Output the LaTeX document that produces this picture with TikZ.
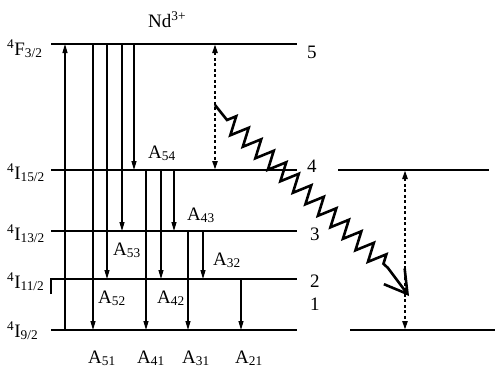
\documentclass[tikz,border=0pt]{standalone}
\usepackage{fontspec}
\setmainfont{Liberation Serif}
\usetikzlibrary{arrows.meta, decorations.pathmorphing, calc}

\begin{document}
\begin{tikzpicture}[x=1pt, y=-1pt, >={Triangle[length=9pt, width=5pt]},
    level/.style={line width=1.3pt},
    trans/.style={line width=1.1pt, ->},
    nonrad/.style={line width=2.2pt, dash pattern=on 3pt off 2.5pt, <->},
    lbl/.style={font=\fontsize{19}{22}\selectfont, inner sep=0pt, anchor=base west}]
    \useasboundingbox (0,0) rectangle (495,373);

    % levels
    \coordinate (L5) at (51,44);   \coordinate (L5e) at (297,44);
    \coordinate (L4) at (51,170);  \coordinate (L4e) at (297,170);
    \coordinate (L3) at (51,231);  \coordinate (L3e) at (297,231);
    \coordinate (L2) at (51,279);  \coordinate (L2e) at (297,279);
    \coordinate (L2t) at (51,294);
    \coordinate (L1) at (51,330);  \coordinate (L1e) at (297,330);
    \coordinate (R4) at (338,170); \coordinate (R4e) at (489,170);
    \coordinate (R1) at (350,330); \coordinate (R1e) at (495,330);

    \draw[level] (L5) -- (L5e);
    \draw[level] (L4) -- (L4e);
    \draw[level] (L3) -- (L3e);
    \draw[level] (L2t) -- (L2) -- (L2e);
    \draw[level] (L1) -- (L1e);
    \draw[level] (R4) -- (R4e);
    \draw[level] (R1) -- (R1e);

    % arrow positions
    \coordinate (pump) at (65,0);
    \coordinate (x51) at (93,0);  \coordinate (x52) at (107,0);
    \coordinate (x53) at (122,0); \coordinate (x54) at (134,0);
    \coordinate (x41) at (146,0); \coordinate (x42) at (161,0);
    \coordinate (x43) at (174,0);
    \coordinate (x31) at (188,0); \coordinate (x32) at (203,0);
    \coordinate (x21) at (241,0);
    \coordinate (xnr) at (215,0); \coordinate (xcr) at (405,0);

    \draw[trans] (pump |- L1) -- (pump |- L5);
    \draw[trans] (x51 |- L5) -- (x51 |- L1);
    \draw[trans] (x52 |- L5) -- (x52 |- L2);
    \draw[trans] (x53 |- L5) -- (x53 |- L3);
    \draw[trans] (x54 |- L5) -- (x54 |- L4);
    \draw[trans] (x41 |- L4) -- (x41 |- L1);
    \draw[trans] (x42 |- L4) -- (x42 |- L2);
    \draw[trans] (x43 |- L4) -- (x43 |- L3);
    \draw[trans] (x31 |- L3) -- (x31 |- L1);
    \draw[trans] (x32 |- L3) -- (x32 |- L2);
    \draw[trans] (x21 |- L2) -- (x21 |- L1);

    \draw[nonrad] (xnr |- L5) -- (xnr |- L4);
    \draw[nonrad] (xcr |- R4) -- (xcr |- R1);

    % energy transfer
    \coordinate (zs) at (215,105);
    \coordinate (z1) at (227,120);
    \coordinate (z2) at (388,268);
    \coordinate (ze) at (409,296);
    \draw[line width=2.6pt, line join=miter, miter limit=20,
        decoration={zigzag, segment length=17pt, amplitude=9pt},
        -{Straight Barb[length=22pt, width=26pt, line width=2.6pt]}]
        (zs) -- (z1) decorate { -- (z2) } -- (ze);

    % labels
    \node[lbl] (ion) at (148,27) {Nd\textsuperscript{3+}};
    \node[lbl] (t5) at (7,55)  {\textsuperscript{4}F\textsubscript{3/2}};
    \node[lbl] (t4) at (7,179) {\textsuperscript{4}I\textsubscript{15/2}};
    \node[lbl] (t3) at (7,240) {\textsuperscript{4}I\textsubscript{13/2}};
    \node[lbl] (t2) at (7,288) {\textsuperscript{4}I\textsubscript{11/2}};
    \node[lbl] (t1) at (7,337) {\textsuperscript{4}I\textsubscript{9/2}};

    \node[lbl] (n5) at (307,58)  {5};
    \node[lbl] (n4) at (307,172) {4};
    \node[lbl] (n3) at (310,240) {3};
    \node[lbl] (n2) at (310,287) {2};
    \node[lbl] (n1) at (310,310) {1};

    \node[lbl] (a54) at (148,158) {A\textsubscript{54}};
    \node[lbl] (a43) at (187,220) {A\textsubscript{43}};
    \node[lbl] (a53) at (113,255) {A\textsubscript{53}};
    \node[lbl] (a32) at (213,265) {A\textsubscript{32}};
    \node[lbl] (a52) at (98,303)  {A\textsubscript{52}};
    \node[lbl] (a42) at (157,303) {A\textsubscript{42}};
    \node[lbl] (a51) at (88,363)  {A\textsubscript{51}};
    \node[lbl] (a41) at (137,363) {A\textsubscript{41}};
    \node[lbl] (a31) at (182,363) {A\textsubscript{31}};
    \node[lbl] (a21) at (235,363) {A\textsubscript{21}};
\end{tikzpicture}
\end{document}
